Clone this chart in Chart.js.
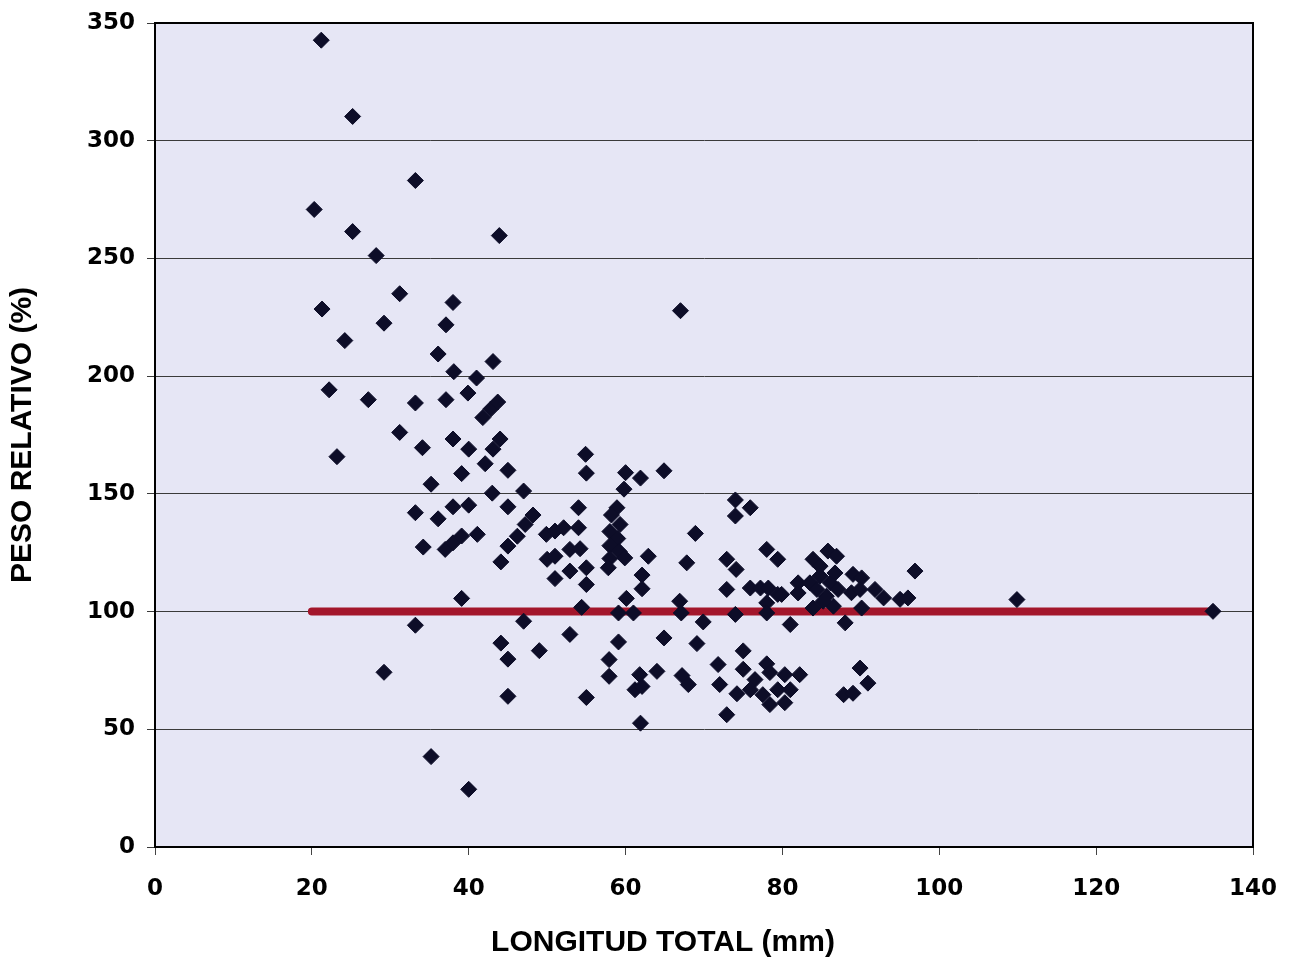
<!DOCTYPE html>
<html>
<head>
<meta charset="utf-8">
<script src="https://cdn.jsdelivr.net/npm/chart.js@4"></script>
<style>
  body { margin: 0; background: #fff; }
  #wrap { width: 1293px; height: 961px; }
</style>
</head>
<body>
<div id="wrap"><canvas id="chart" width="1293" height="961"></canvas></div>
<script>
// longitud total (mm) vs peso relativo (%)
const longitud = [
  21.2, 25.2, 20.3, 33.2, 25.2, 28.2, 43.9, 31.2, 21.3, 38, 29.2, 37.1, 24.2, 36.1, 43.1, 38.1, 41,
  22.2, 27.2, 33.2, 37.1, 39.9, 41.8, 42.8, 43.7, 31.2, 34.1, 38, 40, 44, 43.1, 42.1, 45, 23.2,
  39.1, 35.2, 43, 47, 33.2, 36.1, 38, 40, 45, 46.2, 47.2, 48.2, 49.9, 50, 51, 34.2, 37, 38, 39.1,
  41.1, 45, 44.1, 39.1, 33.2, 47, 44.1, 45, 49, 29.2, 45, 35.2, 40,
  54.9, 55, 60, 61.9, 64.9, 59.8, 54, 58.9, 74, 75.9, 74, 51, 52.1, 54,
  58.2, 59.3, 58, 59, 58, 59.2, 58, 57.8, 59.9, 68.9, 78, 79.4, 51, 52.9, 54.2, 52.9, 55,
  62.9, 67.8, 55, 62.1, 62.1, 72.9, 74.1, 72.9, 75.9, 77.2, 78.2, 79.4, 60.1, 54.4, 66.9, 67.1,
  78, 78, 59.1, 61, 69.9, 74, 52.9, 59.1, 64.9, 69.1, 75, 57.9, 57.9, 61.8, 61.2, 62.1, 64,
  67.2, 68, 71.8, 72, 75, 74.2, 78, 55, 72.9, 61.9, 67,
  82.2, 76.5, 78.4, 80.3, 77.5, 79.4, 81, 78.4, 80.3, 75.9,
  79.9, 82, 82, 81, 83.9, 84.8, 85.8, 86.9, 83.5, 84.8, 84.4, 86.1, 85.6, 86.7, 87.1, 83.9,
  86.5, 85.2, 88, 89, 90.1, 88.8, 89.9, 90.1, 91.8, 92.9, 95, 96, 96.9, 89.9, 90.9, 87.8, 89,
  109.9, 134.9
];
const pesoRelativo = [
  342.7, 310.3, 270.8, 283.1, 261.4, 251.2, 259.7, 235, 228.5, 231.3, 222.5, 221.8, 215.1, 209.4, 206.2, 201.9, 199.2,
  194.2, 190, 188.6, 190, 192.8, 182.4, 186, 189, 176.1, 169.6, 173.3, 169, 173.3, 169, 162.8, 160, 165.8,
  158.6, 154.1, 150.3, 151.2, 142, 139.4, 144.5, 145.2, 144.5, 132, 137, 141, 132.8, 122.2, 114, 127.4, 126.4, 129.2, 132.1,
  132.8, 127.8, 121.1, 105.6, 94.2, 95.9, 86.6, 79.8, 83.4, 74.2, 64, 38.4, 24.5,
  166.8, 158.8, 159, 156.7, 159.8, 152, 144.1, 144.1, 147.4, 144.1, 140.6, 134.2, 135.6, 135.6,
  141, 137, 134, 131, 128, 125.5, 122.5, 118.6, 122.8, 133.2, 126.4, 122.2, 123.5, 126.4, 126.7, 117.2, 118.6,
  123.5, 120.7, 111.5, 115.5, 109.7, 122.2, 117.9, 109.4, 110, 110, 110, 107.3, 105.6, 101.8, 104.4, 99.4,
  103.7, 99.4, 99.4, 99.4, 95.6, 98.8, 90.3, 87.1, 88.8, 86.4, 83.3, 79.6, 72.5, 73.2, 66.8, 68.2, 74.6,
  72.8, 69, 77.5, 69, 75.5, 65.1, 77.8, 63.5, 56.2, 52.6, 227.8,
  73.2, 71.1, 74.1, 73.2, 64.7, 66.8, 66.8, 60.5, 61.3, 66.8,
  107.3, 112.2, 107.9, 94.5, 122.2, 119.3, 125.7, 123.5, 112.2, 115.1, 109.4, 112.2, 106.5, 116.4, 109.4, 101.5,
  102.3, 104.4, 95.2, 115.8, 114.3, 108, 109.4, 101.5, 109.4, 105.8, 105.2, 105.8, 117.2, 76, 69.6, 64.7, 65.3,
  105.1, 100.1
];
// reference line at 100 %
const refX = [20, 135];
const refY = [100, 100];

const xTicks = [0, 20, 40, 60, 80, 100, 120, 140];
const yTicks = [0, 50, 100, 150, 200, 250, 300, 350];
const xTitle = "LONGITUD TOTAL (mm)";

const plotFrame = {
  id: "plotFrame",
  beforeDraw(c) {
    const a = c.chartArea, ctx = c.ctx;
    ctx.save();
    ctx.fillStyle = "#e6e6f5";
    ctx.fillRect(a.left, a.top, a.right - a.left, a.bottom - a.top);
    ctx.restore();
  },
  afterDraw(c) {
    const a = c.chartArea, ctx = c.ctx;
    ctx.save();
    ctx.strokeStyle = "#000";
    ctx.lineWidth = 2;
    ctx.strokeRect(a.left, a.top, a.right - a.left, a.bottom - a.top);
    // x title sits a bit left of the plot centre in the original
    ctx.fillStyle = "#000";
    ctx.font = "bold 30px 'Liberation Sans'";
    ctx.textAlign = "center";
    ctx.textBaseline = "middle";
    ctx.fillText(xTitle, 663, 943);
    ctx.restore();
  }
};

const points = longitud.map((x, i) => ({ x: x, y: pesoRelativo[i] }));
const refLine = refX.map((x, i) => ({ x: x, y: refY[i] }));

new Chart(document.getElementById("chart"), {
  type: "scatter",
  data: {
    datasets: [{
      label: "Peso relativo",
      data: points,
      pointStyle: "rectRot",
      pointRadius: 8,
      pointBackgroundColor: "#0d0d28",
      pointBorderColor: "#0d0d28",
      pointBorderWidth: 1,
      order: 0
    }, {
      type: "line",
      label: "100 %",
      data: refLine,
      borderColor: "#a3162b",
      borderWidth: 8,
      borderCapStyle: "round",
      pointRadius: 0,
      order: 1
    }]
  },
  options: {
    responsive: false,
    animation: false,
    layout: { padding: { top: 23, right: 40, left: 0, bottom: 0 } },
    plugins: { legend: { display: false }, tooltip: { enabled: false } },
    scales: {
      x: {
        type: "linear",
        min: 0, max: 140,
        afterBuildTicks: s => { s.ticks = xTicks.map(v => ({ value: v })); },
        afterFit: s => { s.height = 114; s.paddingLeft = 0; s.paddingRight = 0; },
        grid: { drawOnChartArea: false, drawTicks: true, tickLength: 8, color: "#444" },
        border: { color: "#000", width: 2 },
        ticks: { color: "#000", padding: 20, font: { family: "DejaVu Sans", weight: "bold", size: 23 } },
        title: { display: false }
      },
      y: {
        min: 0, max: 350,
        afterBuildTicks: s => { s.ticks = yTicks.map(v => ({ value: v })); },
        afterFit: s => { s.width = 155; s.paddingTop = 0; s.paddingBottom = 0; },
        grid: { drawTicks: true, tickLength: 8, color: "#3a3a3a", lineWidth: 1 },
        border: { color: "#000", width: 2 },
        ticks: { color: "#000", padding: 12, font: { family: "DejaVu Sans", weight: "bold", size: 23 } },
        title: {
          display: true, text: "PESO RELATIVO (%)", color: "#000",
          padding: { top: 5, bottom: 0 },
          font: { family: "Liberation Sans", weight: "bold", size: 30 }
        }
      }
    }
  },
  plugins: [plotFrame]
});
</script>
</body>
</html>
